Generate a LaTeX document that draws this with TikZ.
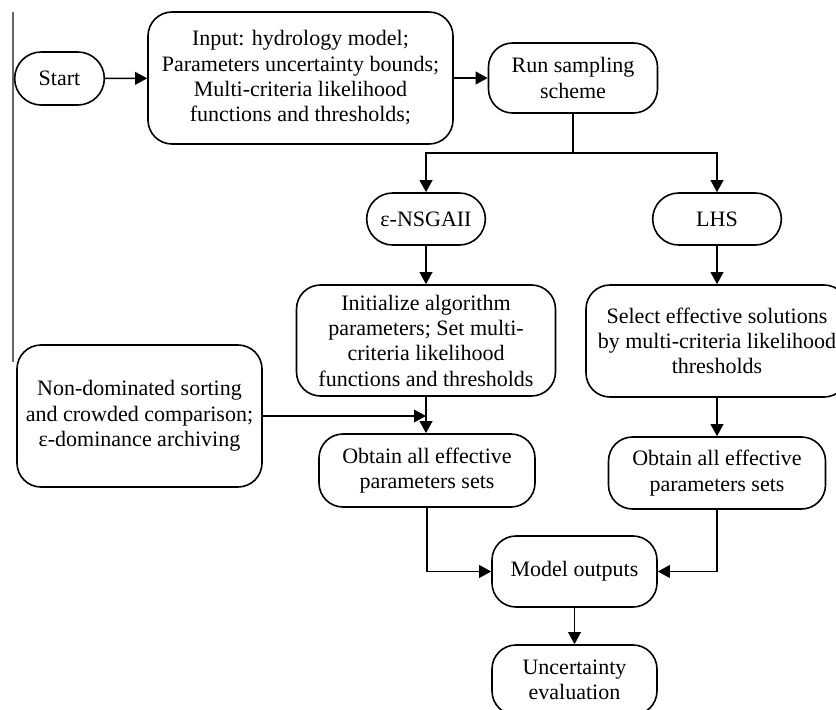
\documentclass[tikz,border=0pt]{standalone}
\usepackage{fontspec}
\setmainfont{Liberation Serif}
\usetikzlibrary{shapes.misc,arrows.meta}

\begin{document}
\begin{tikzpicture}[x=0.75pt, y=-0.75pt,
    wh/.style 2 args={minimum width=#1*0.75pt, minimum height=#2*0.75pt},
    base/.style={draw, line width=1.2pt, align=center, inner sep=2pt,
        font=\fontsize{16.5}{19}\selectfont},
    box/.style={base, rounded corners=18pt},
    pill/.style={base, rounded rectangle},
    flow/.style={line width=1.2pt, -{Triangle[length=9pt,width=9.5pt]}}]
    \useasboundingbox (0,0) rectangle (836,710);

    % Margin rule on the left
    \draw[line width=0.8pt, color=black!60] (13,12) -- (13,362);

    % Top row
    \node[pill, wh={95}{53}] (start) at (59.5,78.5) {Start};
    \node[box, wh={305}{132}] (input) at (300.5,78) {Input: hydrology model;\\Parameters uncertainty bounds;\\Multi-criteria likelihood\\functions and thresholds;};
    \node[box, wh={169}{70}] (run) at (573,78) {Run sampling\\scheme};
    \coordinate (split) at (573,153);

    % Sampling methods
    \node[pill, wh={124}{52}] (nsga) at (426,219) {ε-NSGAII};
    \node[pill, wh={134}{52}] (lhs) at (717,219) {LHS};

    % Left branch: epsilon-NSGAII
    \node[box, wh={259}{111}] (init) at (426,340.5) {Initialize algorithm\\parameters; Set multi-\\criteria likelihood\\functions and thresholds};
    \node[box, wh={245}{142}] (nondom) at (139.5,416) {Non-dominated sorting\\and crowded comparison;\\ε-dominance archiving};
    \node[box, wh={216}{73}] (obtL) at (427,470.5) {Obtain all effective\\parameters sets};

    % Right branch: LHS
    \node[box, wh={262}{112}] (select) at (717,341) {Select effective solutions\\by multi-criteria likelihood\\thresholds};
    \node[box, wh={217}{72}] (obtR) at (717,473) {Obtain all effective\\parameters sets};

    % Outputs
    \node[box, wh={165}{71}] (model) at (574.5,571.5) {Model outputs};
    \node[box, wh={165}{70}] (uncert) at (574.5,680) {Uncertainty\\evaluation};

    % Connectors
    \draw[flow] (start) -- (input);
    \draw[flow] (input) -- (run);
    \draw[line width=1.2pt] (run) -- (split);
    \draw[flow] (split) -| (nsga);
    \draw[flow] (split) -| (lhs);
    \draw[flow] (nsga) -- (init);
    \draw[flow] (init.south) -- (init.south |- obtL.north);
    \draw[flow] (nondom.east) -- (nondom.east -| init.south);
    \draw[flow] (lhs) -- (select);
    \draw[flow] (select) -- (obtR);
    \draw[flow] (obtL) |- (model);
    \draw[flow] (obtR) |- (model);
    \draw[flow] (model) -- (uncert);
\end{tikzpicture}
\end{document}
